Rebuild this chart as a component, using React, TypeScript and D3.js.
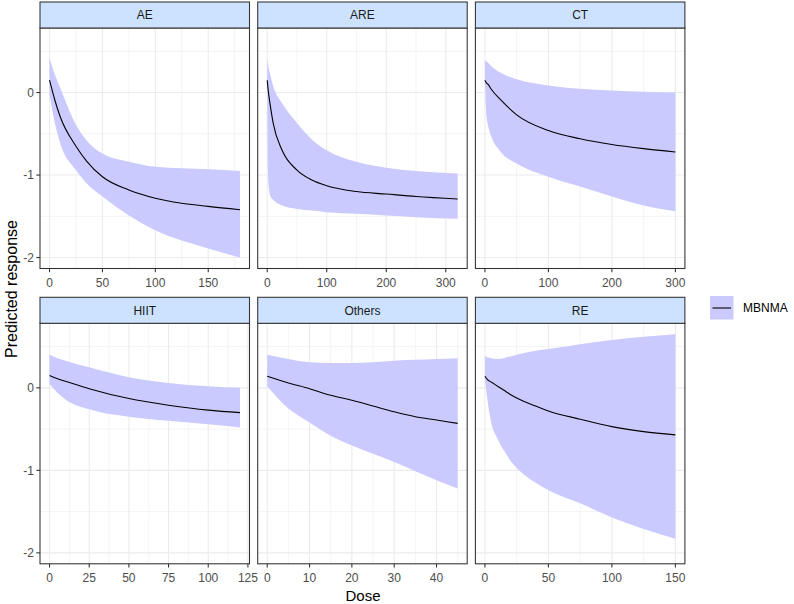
import React from 'react';
import * as d3 from 'd3';

// facet names, in plot order
const facetNames = ['AE', 'ARE', 'CT', 'HIIT', 'Others', 'RE'];

// AE
const aeDose = [0, 5, 10, 25, 35, 50, 75, 100, 150, 180];
const aeMean = [0.15, -0.09, -0.29, -0.65, -0.83, -1.02, -1.18, -1.28, -1.38, -1.42];
const aeLower = [-0.02, -0.37, -0.61, -0.94, -1.1, -1.26, -1.49, -1.67, -1.89, -2.0];
const aeUpper = [0.42, 0.22, 0.06, -0.39, -0.58, -0.74, -0.84, -0.9, -0.93, -0.95];

// ARE
const areDose = [0, 1, 3, 5, 10, 25, 50, 75, 100, 150, 200, 250, 320];
const areMean = [0.15, 0.07, -0.05, -0.15, -0.37, -0.7, -0.94, -1.06, -1.13, -1.2, -1.23, -1.26, -1.29];
const areLower = [0.0, -0.9, -1.18, -1.25, -1.3, -1.37, -1.41, -1.43, -1.45, -1.47, -1.49, -1.51, -1.53];
const areUpper = [0.41, 0.36, 0.28, 0.22, 0.08, -0.13, -0.37, -0.57, -0.7, -0.84, -0.91, -0.95, -0.98];

// CT
const ctDose = [0, 2, 5, 10, 25, 50, 100, 150, 200, 250, 300];
const ctMean = [0.15, 0.12, 0.1, 0.04, -0.09, -0.27, -0.46, -0.56, -0.63, -0.68, -0.72];
const ctLower = [0.12, -0.25, -0.4, -0.53, -0.72, -0.86, -1.02, -1.14, -1.26, -1.37, -1.44];
const ctUpper = [0.39, 0.38, 0.36, 0.32, 0.24, 0.16, 0.085, 0.045, 0.024, 0.01, 0.0];

// HIIT
const hiitDose = [0, 5, 10, 25, 50, 75, 100, 120];
const hiitMean = [0.15, 0.11, 0.08, -0.01, -0.13, -0.21, -0.27, -0.3];
const hiitLower = [0.05, -0.06, -0.14, -0.26, -0.35, -0.4, -0.44, -0.48];
const hiitUpper = [0.4, 0.36, 0.33, 0.25, 0.13, 0.06, 0.02, 0.0];

// Others
const othDose = [0, 5, 10, 15, 20, 25, 30, 35, 40, 45];
const othMean = [0.14, 0.06, -0.01, -0.09, -0.15, -0.22, -0.29, -0.35, -0.39, -0.43];
const othLower = [0.02, -0.25, -0.42, -0.58, -0.7, -0.8, -0.9, -1.01, -1.12, -1.22];
const othUpper = [0.4, 0.35, 0.31, 0.3, 0.3, 0.31, 0.33, 0.34, 0.35, 0.36];

// RE
const reDose = [0, 2, 5, 10, 15, 20, 30, 40, 50, 75, 100, 125, 150];
const reMean = [0.14, 0.1, 0.07, 0.02, -0.03, -0.08, -0.16, -0.22, -0.28, -0.38, -0.47, -0.53, -0.57];
const reLower = [0.1, -0.15, -0.42, -0.62, -0.76, -0.88, -1.04, -1.15, -1.24, -1.4, -1.57, -1.71, -1.83];
const reUpper = [0.39, 0.37, 0.36, 0.35, 0.36, 0.38, 0.42, 0.45, 0.47, 0.53, 0.58, 0.62, 0.65];

// axis breaks
const xBreaks = [
  [0, 50, 100, 150],
  [0, 100, 200, 300],
  [0, 100, 200, 300],
  [0, 25, 50, 75, 100, 125],
  [0, 10, 20, 30, 40],
  [0, 50, 100, 150],
];
const yBreaks = [-2, -1, 0];

const legendLabel = 'MBNMA';

const doses = [aeDose, areDose, ctDose, hiitDose, othDose, reDose];
const means = [aeMean, areMean, ctMean, hiitMean, othMean, reMean];
const lowers = [aeLower, areLower, ctLower, hiitLower, othLower, reLower];
const uppers = [aeUpper, areUpper, ctUpper, hiitUpper, othUpper, reUpper];

const FONT = '"Liberation Sans", Arial, sans-serif';
const RIBBON = 'rgb(202,202,255)';
const STRIP = '#cce2ff';
const GRID = '#ebebeb';
const BORDER = '#333333';

const panelW = 209.5;
const gapX = 8.2;
const stripH = 26;
const panelH = 240.5;
const left0 = 40;
const rowTops = [2, 297.3];

function expand([a, b]: number[]) {
  const pad = (b - a) * 0.05;
  return [a - pad, b + pad];
}

function minorOf(breaks: number[], domain: number[]) {
  const step = breaks[1] - breaks[0];
  const out: number[] = [];
  for (let i = -1; i < breaks.length; i++) {
    const v = breaks[0] + step * i + step / 2;
    if (v > domain[0] && v < domain[1]) out.push(v);
  }
  return out;
}

export default function App() {
  const allVals = [...lowers.flat(), ...uppers.flat(), ...means.flat()];
  const yDomain = expand(d3.extent(allVals) as number[]);

  const panels = facetNames.map((name, i) => {
    const col = i % 3;
    const row = Math.floor(i / 3);
    const x0 = left0 + col * (panelW + gapX);
    const top = rowTops[row];
    const py0 = top + stripH;
    const rows = doses[i].map((d, j) => ({
      dose: d,
      mean: means[i][j],
      lower: lowers[i][j],
      upper: uppers[i][j],
    }));
    const xDomain = expand([0, d3.max(doses[i]) as number]);
    const x = d3.scaleLinear().domain(xDomain).range([x0, x0 + panelW]);
    const y = d3.scaleLinear().domain(yDomain).range([py0 + panelH, py0]);
    const area = d3
      .area<any>()
      .x((d) => x(d.dose))
      .y0((d) => y(d.lower))
      .y1((d) => y(d.upper))
      .curve(d3.curveMonotoneX);
    const line = d3
      .line<any>()
      .x((d) => x(d.dose))
      .y((d) => y(d.mean))
      .curve(d3.curveMonotoneX);
    const xMinor = minorOf(xBreaks[i], xDomain);
    const yMinor = minorOf(yBreaks, yDomain);
    const bottom = py0 + panelH;

    return (
      <g key={name}>
        {/* grid */}
        {yMinor.map((v) => (
          <line key={'ym' + v} x1={x0} x2={x0 + panelW} y1={y(v)} y2={y(v)} stroke={GRID} strokeWidth={0.53} />
        ))}
        {xMinor.map((v) => (
          <line key={'xm' + v} x1={x(v)} x2={x(v)} y1={py0} y2={bottom} stroke={GRID} strokeWidth={0.53} />
        ))}
        {yBreaks.map((v) => (
          <line key={'y' + v} x1={x0} x2={x0 + panelW} y1={y(v)} y2={y(v)} stroke={GRID} strokeWidth={1.07} />
        ))}
        {xBreaks[i].map((v) => (
          <line key={'x' + v} x1={x(v)} x2={x(v)} y1={py0} y2={bottom} stroke={GRID} strokeWidth={1.07} />
        ))}
        <path d={area(rows) as string} fill={RIBBON} />
        <path d={line(rows) as string} fill="none" stroke="#000" strokeWidth={1.1} />
        <rect x={x0} y={py0} width={panelW} height={panelH} fill="none" stroke={BORDER} strokeWidth={1.07} />
        {/* strip */}
        <rect x={x0} y={top} width={panelW} height={stripH} fill={STRIP} stroke={BORDER} strokeWidth={1.07} />
        <text x={x0 + panelW / 2} y={top + stripH / 2 + 4.3} textAnchor="middle" fontSize={12} fill="#1a1a1a" fontFamily={FONT}>
          {name}
        </text>
        {/* x axis */}
        {xBreaks[i].map((v) => (
          <g key={'xt' + v}>
            <line x1={x(v)} x2={x(v)} y1={bottom} y2={bottom + 3.7} stroke={BORDER} strokeWidth={1.07} />
            <text x={x(v)} y={bottom + 18.5} textAnchor="middle" fontSize={12} fill="#4d4d4d" fontFamily={FONT}>
              {v}
            </text>
          </g>
        ))}
        {/* y axis, first column only */}
        {col === 0 &&
          yBreaks.map((v) => (
            <g key={'yt' + v}>
              <line x1={x0 - 3.7} x2={x0} y1={y(v)} y2={y(v)} stroke={BORDER} strokeWidth={1.07} />
              <text x={x0 - 6} y={y(v) + 4.3} textAnchor="end" fontSize={12} fill="#4d4d4d" fontFamily={FONT}>
                {v}
              </text>
            </g>
          ))}
      </g>
    );
  });

  return (
    <div style={{ position: 'absolute', left: 0, top: 0 }}>
      <svg width={794} height={604} style={{ display: 'block', background: '#fff' }}>
        {panels}
        <text
          transform="translate(16.5,289) rotate(-90)"
          textAnchor="middle"
          fontSize={16}
          fill="#000"
          fontFamily={FONT}
        >
          Predicted response
        </text>
        <text x={363} y={600.5} textAnchor="middle" fontSize={15} fill="#000" fontFamily={FONT}>
          Dose
        </text>
        {/* legend */}
        <rect x={710} y={296} width={23.5} height={23.5} fill={RIBBON} />
        <line x1={712.5} x2={731} y1={308} y2={308} stroke="#000" strokeWidth={1.1} />
        <text x={743} y={312.4} fontSize={12} fill="#000" fontFamily={FONT}>
          {legendLabel}
        </text>
      </svg>
    </div>
  );
}
